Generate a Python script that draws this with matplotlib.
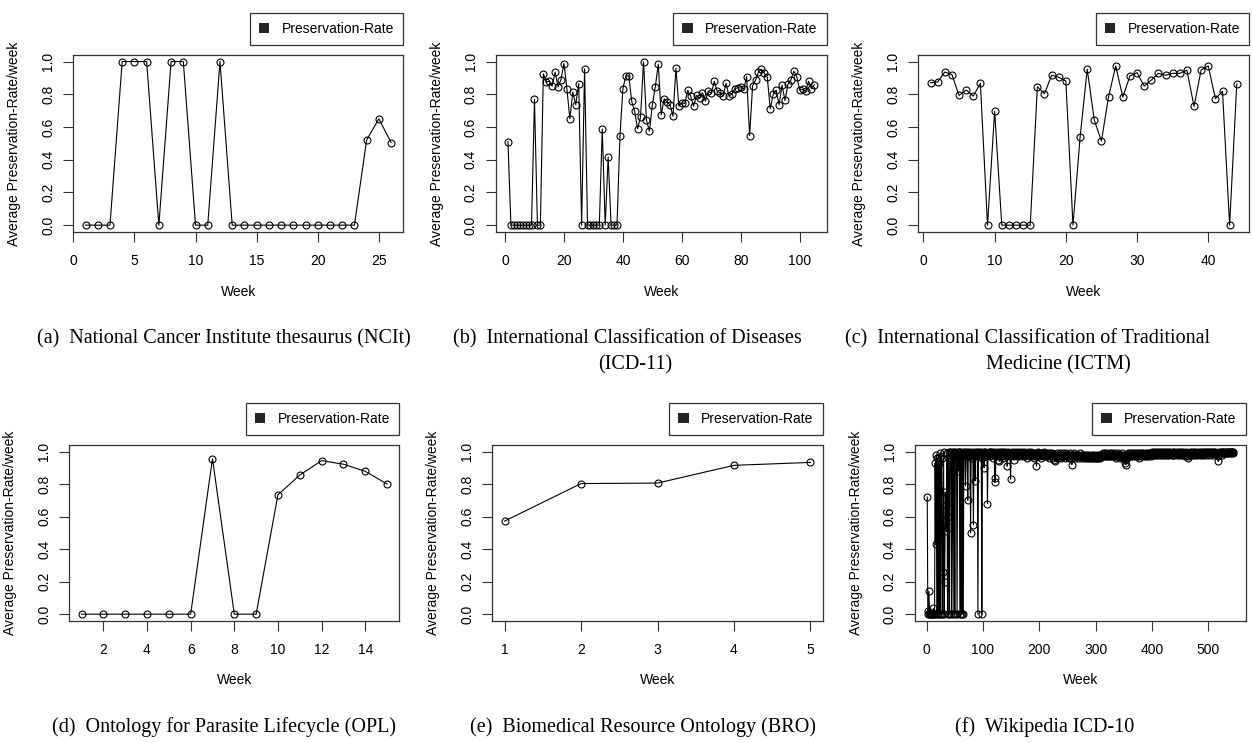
import matplotlib
matplotlib.use('Agg')
import matplotlib.pyplot as plt
from matplotlib.patches import Patch

plt.rcParams['font.family'] = 'Liberation Sans'

# ---- data ----
ncit_rate = [0, 0, 0, 1, 1, 1, 0, 1, 1, 0, 0, 1, 0, 0, 0, 0, 0, 0, 0, 0,
             0, 0, 0, 0.52, 0.65, 0.505]

icd11_rate = [0.51, 0, 0, 0, 0, 0, 0, 0, 0, 0.77, 0, 0, 0.925, 0.875, 0.88,
              0.85, 0.935, 0.845, 0.89, 0.988, 0.834, 0.65, 0.814, 0.736, 0.865,
              0, 0.955, 0, 0, 0, 0, 0, 0.588, 0, 0.416, 0, 0, 0, 0.543, 0.834,
              0.912, 0.912, 0.756, 0.695, 0.59, 0.662, 0.998, 0.641, 0.574, 0.736,
              0.846, 0.984, 0.674, 0.773, 0.752, 0.736, 0.666, 0.959, 0.727, 0.748,
              0.744, 0.824, 0.789, 0.727, 0.793, 0.777, 0.809, 0.758, 0.82, 0.805,
              0.879, 0.818, 0.809, 0.789, 0.867, 0.789, 0.803, 0.834, 0.84, 0.846,
              0.83, 0.908, 0.547, 0.85, 0.885, 0.936, 0.953, 0.928, 0.904, 0.711,
              0.799, 0.826, 0.736, 0.855, 0.762, 0.861, 0.887, 0.941, 0.908, 0.826,
              0.83, 0.818, 0.879, 0.834, 0.859]

ictm_rate = [0.871, 0.875, 0.936, 0.92, 0.793, 0.826, 0.789, 0.867, 0, 0.697,
             0, 0, 0, 0, 0, 0.846, 0.803, 0.916, 0.904, 0.881,
             0, 0.537, 0.953, 0.641, 0.514, 0.785, 0.973, 0.783, 0.912, 0.932,
             0.85, 0.887, 0.928, 0.916, 0.928, 0.928, 0.947, 0.727, 0.949, 0.973,
             0.773, 0.818, 0, 0.863]

opl_rate = [0, 0, 0, 0, 0, 0, 0.956, 0, 0, 0.734, 0.855, 0.944, 0.922, 0.878, 0.8]

bro_rate = [0.572, 0.803, 0.806, 0.915, 0.933]

wiki_rate = [
    0.72, 0.02, 0.00, 0.14, 0.00, 0.00, 0.00, 0.01, 0.00, 0.00,
    0.00, 0.035, 0.00, 0.00, 0.93, 0.43, 0.98, 0.00, 0.96, 0.00,
    0.77, 0.93, 0.00, 0.99, 0.00, 0.97, 0.96, 0.00, 0.26, 1.00,
    0.00, 0.20, 0.75, 0.67, 0.51, 0.99, 0.00, 0.60, 1.00, 0.00,
    0.86, 1.00, 0.98, 0.00, 1.00, 0.99, 0.00, 1.00, 0.97, 0.00,
    1.00, 0.99, 0.98, 0.00, 1.00, 0.88, 1.00, 0.99, 0.00, 1.00,
    0.00, 0.97, 0.00, 1.00, 0.00, 0.99, 0.98, 1.00, 0.79, 0.99,
    1.00, 0.98, 0.70, 0.99, 1.00, 0.97, 0.99, 0.50, 0.98, 1.00,
    0.96, 0.99, 0.55, 0.98, 1.00, 0.82, 0.99, 0.97, 1.00, 0.98,
    0.00, 0.99, 1.00, 0.97, 0.98, 1.00, 0.99, 0.00, 0.96, 0.99,
    1.00, 0.90, 0.98, 1.00, 0.97, 0.99, 0.98, 0.68, 0.99, 1.00,
    0.99, 1.00, 0.97, 0.98, 1.00, 0.99, 0.96, 1.00, 0.98, 0.99, 0.81, 0.84, 0.97, 1.00, 0.98, 0.99, 0.95, 1.00, 0.94, 0.99,
    0.98, 1.00, 0.97, 0.99, 0.96, 1.00, 0.98, 0.99, 0.97, 1.00, 0.99, 0.98, 0.91, 0.99, 1.00, 0.97, 0.98, 0.99, 0.83, 0.98,
    1.00, 0.99, 0.97, 0.98, 0.95, 0.99, 1.00, 0.98, 0.99, 0.97, 0.98, 1.00, 0.99, 0.97, 0.98, 0.99, 1.00, 0.98, 0.97, 0.99,
    0.98, 0.99, 1.00, 0.97, 0.98, 0.99, 0.98, 0.96, 0.99, 1.00, 0.98, 0.97, 0.99, 0.98, 1.00, 0.99, 0.97, 0.98, 0.99, 0.96,
    0.98, 0.99, 0.97, 0.98, 0.91, 0.98, 0.99, 1.00, 0.98, 0.97, 0.99, 0.98, 0.96, 0.99, 0.98, 0.97, 0.99, 1.00, 0.98, 0.97,
    0.98, 0.99, 0.97, 0.98, 0.99, 0.97, 0.98, 0.96, 0.99, 0.98, 0.97, 0.98, 0.99, 0.97, 0.96, 0.98, 0.95, 0.94, 0.97, 0.98,
    0.99, 0.97, 0.98, 0.96, 0.98, 0.97, 0.99, 0.98, 0.96, 0.97, 0.98, 0.99, 0.97, 0.98, 0.96, 0.98, 0.97, 0.99, 0.98, 0.97,
    0.98, 0.97, 0.96, 0.98, 0.99, 0.97, 0.96, 0.92, 0.97, 0.98, 0.97, 0.99, 0.98, 0.96, 0.97, 0.98, 0.97, 0.96, 0.98, 0.97,
    0.98, 0.97, 0.99, 0.97, 0.96, 0.98, 0.97, 0.98, 0.96, 0.97, 0.98, 0.97, 0.96, 0.98, 0.97, 0.96, 0.97, 0.98, 0.97, 0.96,
    0.97, 0.96, 0.98, 0.97, 0.96, 0.97, 0.98, 0.96, 0.97, 0.96, 0.97, 0.98, 0.96, 0.97, 0.96, 0.98, 0.97, 0.96, 0.97, 0.98,
    0.97, 0.98, 0.99, 0.97, 0.98, 0.97, 0.99, 0.98, 0.97, 0.98, 0.99, 0.97, 0.98, 0.97, 0.99, 0.98, 0.97, 0.98, 0.99, 0.97,
    0.98, 0.97, 0.98, 0.99, 0.97, 0.98, 0.96, 0.98, 0.97, 0.99, 0.98, 0.97, 0.96, 0.98, 0.97, 0.98, 0.99, 0.97, 0.96, 0.98,
    0.97, 0.95, 0.93, 0.92, 0.96, 0.98, 0.97, 0.99, 0.98, 0.97, 0.98, 0.99, 0.97, 0.98, 0.99, 0.98, 0.97, 0.99, 0.98, 0.97,
    0.98, 0.99, 0.97, 0.98, 0.99, 0.97, 0.96, 0.98, 0.99, 0.97, 0.98, 0.99, 0.98, 0.97, 0.99, 0.98, 0.97, 0.98, 0.99, 0.98,
    0.97, 0.98, 0.99, 0.97, 0.98, 0.99, 0.98, 0.97, 0.99, 1.00, 0.98, 0.99, 0.98, 1.00, 0.99, 0.98, 0.99, 1.00, 0.98, 0.99,
    1.00, 0.99, 0.98, 0.99, 1.00, 0.99, 0.98, 1.00, 0.99, 0.98, 0.99, 1.00, 0.99, 0.98, 1.00, 0.99, 0.98, 0.99, 1.00, 0.99,
    0.98, 0.99, 1.00, 0.99, 0.98, 0.99, 1.00, 0.98, 0.99, 1.00, 0.99, 0.98, 0.99, 1.00, 0.99, 0.98, 0.99, 1.00, 0.99, 0.98,
    0.99, 1.00, 0.99, 0.98, 0.99, 1.00, 0.98, 0.99, 0.97, 0.99, 1.00, 0.99, 0.98, 0.97, 0.96, 0.98, 0.99, 1.00, 0.99, 0.98,
    0.99, 1.00, 0.99, 0.98, 1.00, 0.99, 0.98, 0.99, 1.00, 0.99, 0.98, 0.99, 1.00, 0.99, 0.98, 0.99, 1.00, 0.99, 0.98, 0.99,
    1.00, 0.99, 0.98, 0.99, 1.00, 0.99, 1.00, 0.98, 0.99, 1.00, 0.99, 1.00, 0.99, 0.98, 1.00, 0.99, 1.00, 0.99, 0.98, 0.99,
    1.00, 0.99, 1.00, 0.99, 0.98, 0.99, 0.97, 0.94, 0.99, 1.00, 0.99, 1.00, 0.99, 0.98, 1.00, 0.99, 1.00, 0.99, 1.00, 0.99,
    1.00, 0.99, 1.00, 0.99, 1.00, 0.99, 1.00, 1.00, 0.99, 1.00, 0.99, 1.00, 1.00, 0.99, 1.00,
]

xticks_list = [[0, 5, 10, 15, 20, 25],
               [0, 20, 40, 60, 80, 100],
               [0, 10, 20, 30, 40],
               [2, 4, 6, 8, 10, 12, 14],
               [1, 2, 3, 4, 5],
               [0, 100, 200, 300, 400, 500]]
yticks = [0.0, 0.2, 0.4, 0.6, 0.8, 1.0]
ytick_labels = ['0.0', '0.2', '0.4', '0.6', '0.8', '1.0']

series = [ncit_rate, icd11_rate, ictm_rate, opl_rate, bro_rate, wiki_rate]

# ---- layout, in pixels of the 1252x743 output ----
W, H = 1252, 743
fig = plt.figure(figsize=(W / 100., H / 100.), dpi=100)

# left, top, right, bottom of each plot box
boxes = [(73.3, 55, 403.3, 231.7),
         (495.7, 55, 826.7, 231.7),
         (918.3, 55, 1249, 231.7),
         (69.3, 445, 399.3, 620.7),
         (492.3, 445, 822.7, 620.7),
         (915, 445, 1245.7, 620.7)]

ink = '#333333'

for i, rate in enumerate(series):
    l, t, r, b = boxes[i]
    ax = fig.add_axes([l / W, 1 - b / H, (r - l) / W, (b - t) / H])
    weeks = list(range(1, len(rate) + 1))

    ax.plot(weeks, rate, color='black', lw=0.8, marker='o', ms=5,
            mfc='none', mec='black', mew=0.8)

    span = weeks[-1] - weeks[0]
    ax.set_xlim(weeks[0] - 0.04 * span, weeks[-1] + 0.04 * span)
    ax.set_ylim(-0.04, 1.04)

    ax.set_xticks(xticks_list[i])
    ax.set_xticklabels([str(v) for v in xticks_list[i]])
    ax.set_yticks(yticks)
    ax.set_yticklabels(ytick_labels, rotation=90, va='center')

    ax.tick_params(direction='out', length=7, width=0.8, color=ink,
                   labelsize=10, labelcolor='black')
    ax.tick_params(axis='x', pad=9)
    ax.tick_params(axis='y', pad=6)
    for sp in ax.spines.values():
        sp.set_color(ink)
        sp.set_linewidth(0.9)

    ax.set_xlabel('Week', fontsize=10)
    ax.xaxis.set_label_coords(0.5, -0.30)
    ax.set_ylabel('Average Preservation-Rate/week', fontsize=10)
    ax.yaxis.set_label_coords(-0.157, 0.5)

    leg = ax.legend(handles=[Patch(facecolor='#262626', edgecolor='none',
                                   label='Preservation-Rate')],
                    loc='lower right', bbox_to_anchor=(1.0, 1 + 10. / 176),
                    borderaxespad=0, fancybox=False, framealpha=1,
                    edgecolor=ink, fontsize=10, handlelength=0.75,
                    handleheight=0.75, handletextpad=0.9, borderpad=0.65)
    leg.get_frame().set_linewidth(0.9)

# ---- sub-captions ----
def cap(x, y, s, ha='left'):
    fig.text(x / W, 1 - y / H, s, ha=ha, va='baseline',
             family='Liberation Serif', fontsize=14.5)

cap(224, 343, '(a)  National Cancer Institute thesaurus (NCIt)', ha='center')
cap(453, 343, '(b)  International Classification of Diseases')
cap(635, 369, '(ICD-11)', ha='center')
cap(845, 343, '(c)  International Classification of Traditional')
cap(1058, 369, 'Medicine (ICTM)', ha='center')
cap(224, 732, '(d)  Ontology for Parasite Lifecycle (OPL)', ha='center')
cap(643, 732, '(e)  Biomedical Resource Ontology (BRO)', ha='center')
cap(1045, 732, '(f)  Wikipedia ICD-10', ha='center')

plt.savefig('out.png', dpi=100)
